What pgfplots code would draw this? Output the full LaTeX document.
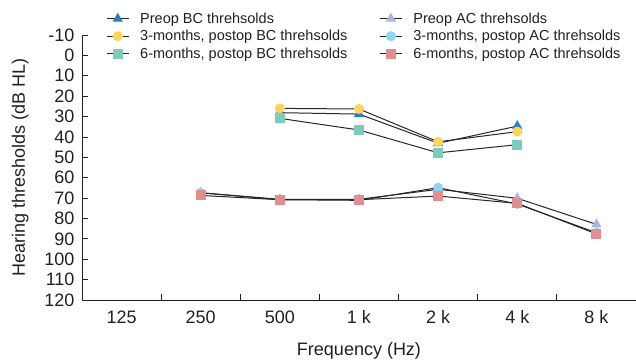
\documentclass[border=0pt]{standalone}
\usepackage{fontspec}
\setmainfont{Liberation Sans}
\usepackage{pgfplots}
\pgfplotsset{compat=1.18}
\definecolor{cPreBC}{HTML}{2E7FC2}
\definecolor{cThrBC}{HTML}{FDD55E}
\definecolor{cSixBC}{HTML}{7CCBBC}
\definecolor{cPreAC}{HTML}{AAB5DF}
\definecolor{cThrAC}{HTML}{8FD4F4}
\definecolor{cSixAC}{HTML}{E08F90}
\definecolor{txt}{HTML}{231F20}
\begin{document}
\begin{tikzpicture}
\begin{axis}[name=ax,
  width=554pt, height=265pt, scale only axis,
  xmin=-0.5, xmax=6.5, ymin=-10, ymax=120, y dir=reverse,
  axis line style={draw=none},
  xtick={0,...,6}, xticklabels={125,250,500,1 k,2 k,4 k,8 k},
  minor xtick={0.5,1.5,2.5,3.5,4.5,5.5},
  major x tick style={draw=none},
  minor x tick style={draw=txt, line width=0.8pt},
  minor tick length=6pt,
  ytick={-10,0,...,120},
  y tick style={draw=txt, line width=0.8pt},
  major tick length=6pt,
  xtick pos=left, ytick pos=left,
  tick align=inside,
  /pgf/number format/assume math mode=true,
  tick label style={font=\fontsize{18}{18}\selectfont, text=txt},
  yticklabel style={xshift=-4pt},
  xticklabel style={yshift=-7pt},
  xlabel={Frequency (Hz)}, ylabel={Hearing thresholds (dB HL)},
  label style={font=\fontsize{18}{18}\selectfont, text=txt},
  xlabel style={yshift=-12pt},
  ylabel style={yshift=9pt},
  legend columns=2,
  legend cell align=left,
  legend style={draw=none, fill=none, at={(0.038,1.10)}, anchor=north west,
    font=\fontsize{14.5}{17.5}\selectfont, text=txt,
    /tikz/every even column/.append style={column sep=30pt},
    row sep=1.5pt},
  legend image code/.code={
    \draw[#1, mark repeat=2, mark phase=2] plot coordinates {(0pt,0pt) (11pt,0pt) (22pt,0pt)};
    \path (31pt,0pt);},
  every axis plot/.append style={draw=black!85, line width=1pt},
]
\addplot[mark=triangle*, mark size=5pt, mark options={draw=cPreBC, fill=cPreBC}]
  coordinates {(2,28.1) (3,28.8) (4,43.1) (5,34.7)};
\addlegendentry{Preop BC threhsolds}
\addplot[mark=triangle*, mark size=5pt, mark options={draw=cPreAC, fill=cPreAC}]
  coordinates {(1,67.4) (2,70.6) (3,70.6) (4,65.7) (5,70.1) (6,82.9)};
\addlegendentry{Preop AC threhsolds}
\addplot[mark=*, mark size=4.5pt, mark options={draw=cThrBC, fill=cThrBC}]
  coordinates {(2,26.0) (3,26.3) (4,42.4) (5,37.4)};
\addlegendentry{3-months, postop BC threhsolds}
\addplot[mark=*, mark size=4.5pt, mark options={draw=cThrAC, fill=cThrAC}]
  coordinates {(1,67.4) (2,70.8) (3,71.1) (4,64.9) (5,72.9) (6,87.0)};
\addlegendentry{3-months, postop AC threhsolds}
\addplot[mark=square*, mark size=4.5pt, mark options={draw=cSixBC, fill=cSixBC}]
  coordinates {(2,30.9) (3,36.6) (4,47.8) (5,43.8)};
\addlegendentry{6-months, postop BC threhsolds}
\addplot[mark=square*, mark size=4.5pt, mark options={draw=cSixAC, fill=cSixAC}]
  coordinates {(1,68.7) (2,70.8) (3,70.8) (4,69.0) (5,72.6) (6,87.6)};
\addlegendentry{6-months, postop AC threhsolds}
\draw[txt, line width=0.9pt] (axis description cs:0,1) -- (axis description cs:0,0) -- (axis description cs:1,0);
\end{axis}
\pgfresetboundingbox
\path[use as bounding box] ([xshift=-82pt,yshift=-61pt]ax.south west) rectangle ([yshift=35pt]ax.north east);
\end{tikzpicture}
\end{document}
